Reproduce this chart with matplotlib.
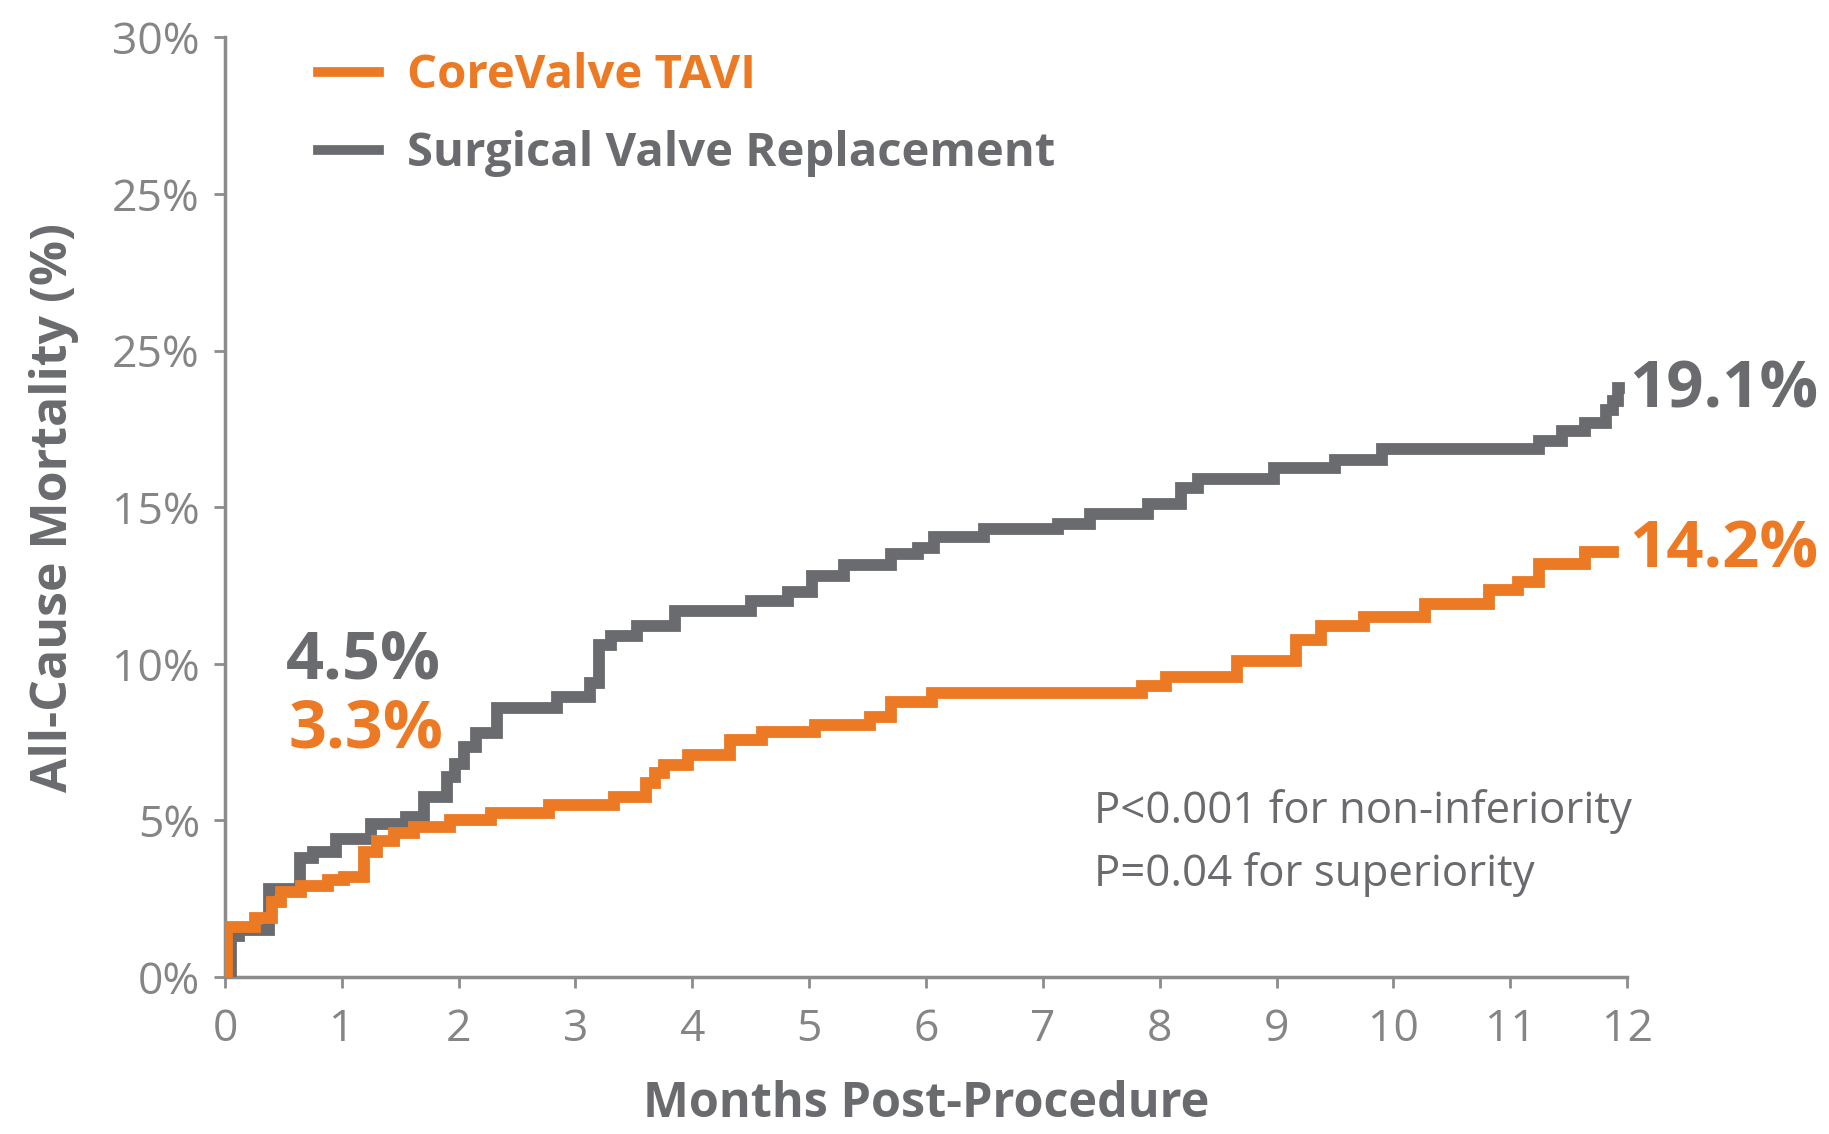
import matplotlib
matplotlib.use("Agg")
import matplotlib.pyplot as plt

# ---- data (months, cumulative all-cause mortality %) ----
tavi_t = [0.00, 0.02, 0.26, 0.40, 0.48, 0.65, 0.88, 1.02, 1.19, 1.30, 1.45, 1.62, 1.93,
          2.28, 2.77, 3.33, 3.60, 3.68, 3.76, 3.96, 4.32, 4.60, 5.05, 5.52, 5.70, 6.05,
          7.85, 8.05, 8.66, 9.17, 9.38, 9.75, 10.27, 10.82, 11.07, 11.25, 11.64, 11.88]
tavi_y = [0.0, 1.6, 1.9, 2.4, 2.7, 2.9, 3.1, 3.2, 4.0, 4.35, 4.6, 4.8, 5.0,
          5.23, 5.5, 5.75, 6.2, 6.5, 6.77, 7.1, 7.56, 7.83, 8.04, 8.3, 8.78, 9.06,
          9.3, 9.57, 10.1, 10.75, 11.2, 11.5, 11.9, 12.35, 12.6, 13.2, 13.57, 13.57]

surg_t = [0.00, 0.05, 0.12, 0.38, 0.64, 0.75, 0.95, 1.25, 1.55, 1.70, 1.90, 1.97, 2.05,
          2.15, 2.33, 2.84, 3.12, 3.20, 3.30, 3.53, 3.85, 4.50, 4.82, 5.02, 5.30, 5.70,
          5.93, 6.07, 6.50, 7.13, 7.40, 7.90, 8.18, 8.33, 8.98, 9.50, 9.90, 11.25, 11.44,
          11.64, 11.82, 11.88, 11.92, 11.93]
surg_y = [0.0, 1.3, 1.5, 2.8, 3.8, 4.0, 4.4, 4.9, 5.1, 5.75, 6.4, 6.8, 7.35,
          7.8, 8.6, 8.95, 9.4, 10.6, 10.9, 11.2, 11.7, 12.0, 12.3, 12.8, 13.15, 13.5,
          13.7, 14.05, 14.3, 14.45, 14.8, 15.1, 15.6, 15.9, 16.25, 16.5, 16.85, 17.1, 17.45,
          17.7, 18.1, 18.4, 18.8, 18.8]

series_labels = ["CoreValve TAVI", "Surgical Valve Replacement"]
x_ticks = list(range(0, 13))
y_ticks = [0, 5, 10, 15, 20, 25, 30]
y_tick_labels = ["0%", "5%", "10%", "15%", "25%", "25%", "30%"]
early_labels = ["4.5%", "3.3%"]
final_labels = ["19.1%", "14.2%"]
p_text = ["P<0.001 for non-inferiority", "P=0.04 for superiority"]

ORANGE = "#EC7A24"
GRAY = "#6A6B6E"
TICKGRAY = "#858585"
FONT = ["Open Sans", "DejaVu Sans"]
plt.rcParams["font.family"] = FONT

fig = plt.figure(figsize=(18.29, 11.34), dpi=100)
ax = fig.add_axes([0.123, 0.1384, 0.7666, 0.8286])

ax.step(surg_t, surg_y, where="post", color=GRAY, lw=8.5, solid_joinstyle="miter",
        label=series_labels[1], zorder=3)
ax.step(tavi_t, tavi_y, where="post", color=ORANGE, lw=8.5, solid_joinstyle="miter",
        label=series_labels[0], zorder=4)

ax.set_xlim(0, 12)
ax.set_ylim(0, 30)
ax.set_xticks(x_ticks)
ax.set_xticklabels([str(v) for v in x_ticks])
ax.set_yticks(y_ticks)
ax.set_yticklabels(y_tick_labels)
for s in ["top", "right"]:
    ax.spines[s].set_visible(False)
for s in ["left", "bottom"]:
    ax.spines[s].set_color("#8c8c8c")
    ax.spines[s].set_linewidth(2.5)
ax.tick_params(axis="both", colors="#8c8c8c", width=2, length=8, labelsize=32,
               labelcolor=TICKGRAY)
ax.tick_params(axis="x", pad=14)
ax.tick_params(axis="y", pad=10)

ax.set_xlabel("Months Post-Procedure", fontsize=35, color=GRAY, fontweight="bold",
              labelpad=20)
ax.set_ylabel("All-Cause Mortality (%)", fontsize=36, color=GRAY, fontweight="bold",
              labelpad=24)

handles, labels = ax.get_legend_handles_labels()
order = [1, 0]
leg = ax.legend([handles[i] for i in order], [labels[i] for i in order],
                loc="upper left", bbox_to_anchor=(0.066, 0.984), frameon=False,
                borderpad=0, borderaxespad=0,
                handlelength=1.3, handletextpad=0.6, labelspacing=0.65,
                prop={"weight": "bold", "size": 34})
for txt, c in zip(leg.get_texts(), [ORANGE, GRAY]):
    txt.set_color(c)
for h in leg.get_lines():
    h.set_linewidth(7)

ax.text(0.52, 10.1, early_labels[0], color=GRAY, fontsize=48, fontweight="bold",
        va="center", ha="left")
ax.text(0.54, 7.9, early_labels[1], color=ORANGE, fontsize=48, fontweight="bold",
        va="center", ha="left")
ax.text(12.02, 18.7, final_labels[0], color=GRAY, fontsize=47, fontweight="bold",
        va="center", ha="left", clip_on=False)
ax.text(12.02, 13.6, final_labels[1], color=ORANGE, fontsize=47, fontweight="bold",
        va="center", ha="left", clip_on=False)
ax.text(7.44, 5.3, p_text[0], color=GRAY, fontsize=31.5, va="center", ha="left")
ax.text(7.44, 3.26, p_text[1], color=GRAY, fontsize=31.5, va="center", ha="left")

fig.savefig("out.png", dpi=100, facecolor="white")
